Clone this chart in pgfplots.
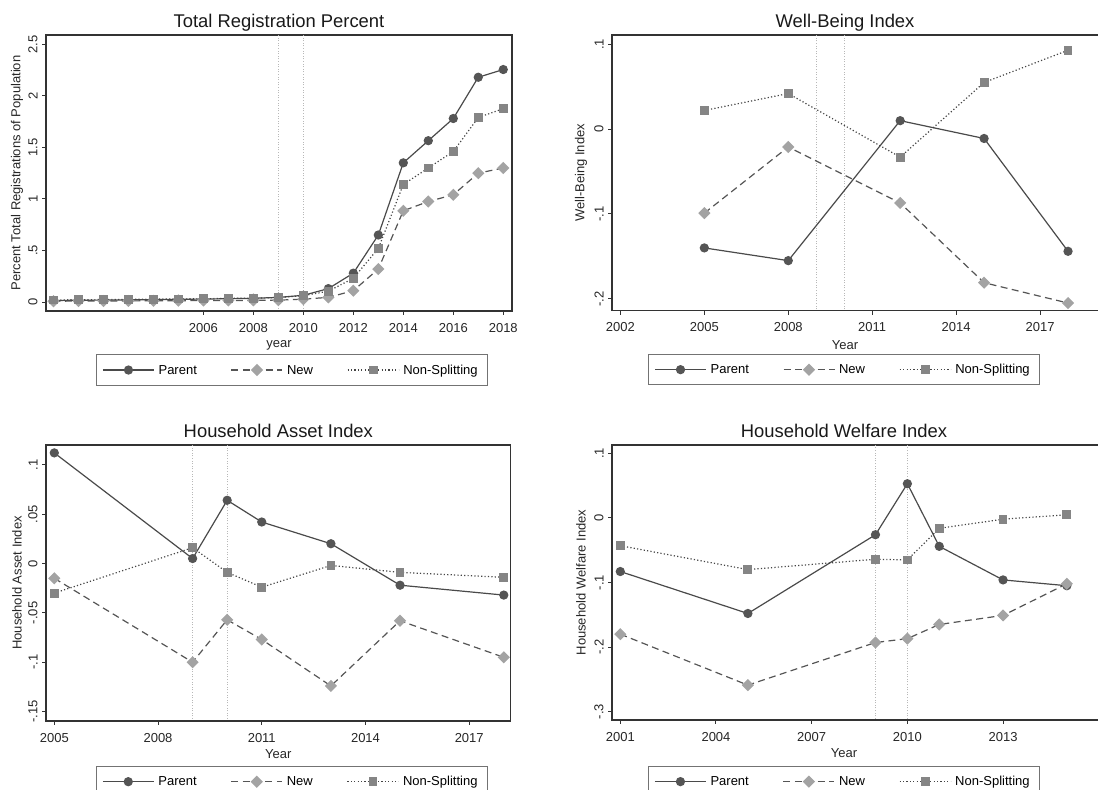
\documentclass[border=0pt]{standalone}
\usepackage{fontspec}
\setmainfont{Liberation Sans}
\usepackage{pgfplots}
\pgfplotsset{compat=1.18}
\definecolor{cpar}{HTML}{4A4A4A}
\definecolor{cparm}{HTML}{555555}
\definecolor{cnew}{HTML}{555555}
\definecolor{cnewm}{HTML}{A3A3A3}
\definecolor{cns}{HTML}{454545}
\definecolor{cnsm}{HTML}{858585}
\newcommand{\sm}{\fontsize{6.5}{7.5}\selectfont}
\newcommand{\tf}{\fontsize{9.2}{10.5}\selectfont}
\pgfplotsset{
  panel/.style={
    scale only axis,
    anchor=north west,
    axis line style={black!80, line width=0.6pt},
    tick align=outside,
    major tick length=2pt,
    tick style={black!80, line width=0.5pt},
    xtick pos=bottom, ytick pos=left,
    ticklabel style={font=\sm, text=black!85},
    yticklabel style={rotate=90, anchor=south, inner sep=1pt, yshift=1pt},
    xticklabel style={inner sep=1pt, yshift=-2.8pt},
    label style={font=\sm, text=black!85},
    title style={font=\tf, anchor=center, text=black!90},
    clip=true,
    legend columns=3,
    legend cell align=left,
    legend style={font=\sm, draw=black!55, line width=0.5pt, anchor=north,
      inner xsep=3pt, inner ysep=3pt,
      /tikz/every even column/.append style={column sep=15pt},
      nodes={inner sep=2pt, text depth=0.5pt}},
    legend image code/.code={\draw[mark repeat=2,mark phase=2,##1] plot coordinates {(0pt,0pt) (12.75pt,0pt) (25.5pt,0pt)};},
  },
  ppar/.style={cpar, line width=0.6pt, solid, mark=*, mark size=2pt, mark options={solid, fill=cparm, draw=cparm}},
  pnew/.style={cnew, line width=0.6pt, dash pattern=on 3.5pt off 2.2pt, mark=square*, mark size=1.85pt, mark options={solid, rotate=45, fill=cnewm, draw=cnewm}},
  pns/.style={cns, line width=0.6pt, dash pattern=on 0.6pt off 1.1pt, mark=square*, mark size=1.9pt, mark options={solid, fill=cnsm, draw=cnsm}},
  vl/.style={black!28, line width=0.4pt, dash pattern=on 0.5pt off 0.8pt, forget plot},
}
\begin{document}
\begin{tikzpicture}
% ---------- Panel 1 ----------
\begin{axis}[panel, at={(23pt,-17.5pt)}, width=233pt, height=138pt,
  xmin=1999.7, xmax=2018.35, ymin=-0.087, ymax=2.59,
  xtick={2006,2008,2010,2012,2014,2016,2018},
  xticklabels={2006,2008,2010,2012,2014,2016,2018},
  ytick={0,0.5,1,1.5,2,2.5}, yticklabels={0,.5,1,1.5,2,2.5},
  title={Total Registration Percent}, title style={at={(0.5,1)}, yshift=0pt},
  xlabel={year}, xlabel style={at={(0.5,0)}, anchor=center, yshift=-17pt},
  ylabel={Percent Total Registrations of Population}, ylabel style={at={(0,0.5)}, anchor=center, yshift=14.5pt},
  legend style={at={(0.528,-0.157)}},
]
\addplot[vl] coordinates {(2009,-1) (2009,3)};
\addplot[vl] coordinates {(2010,-1) (2010,3)};
\addplot[ppar] coordinates {(2000,0.015) (2001,0.017) (2002,0.019) (2003,0.021) (2004,0.023) (2005,0.026) (2006,0.029) (2007,0.032) (2008,0.036) (2009,0.045) (2010,0.065) (2011,0.13) (2012,0.28) (2013,0.65) (2014,1.35) (2015,1.565) (2016,1.78) (2017,2.18) (2018,2.255)};
\addlegendentry{Parent}
\addplot[pnew] coordinates {(2000,0.008) (2001,0.009) (2002,0.010) (2003,0.011) (2004,0.012) (2005,0.013) (2006,0.014) (2007,0.015) (2008,0.016) (2009,0.018) (2010,0.028) (2011,0.045) (2012,0.11) (2013,0.32) (2014,0.885) (2015,0.975) (2016,1.04) (2017,1.25) (2018,1.30)};
\addlegendentry{New}
\addplot[pns] coordinates {(2000,0.02) (2001,0.022) (2002,0.024) (2003,0.026) (2004,0.028) (2005,0.030) (2006,0.032) (2007,0.035) (2008,0.038) (2009,0.042) (2010,0.062) (2011,0.105) (2012,0.23) (2013,0.52) (2014,1.14) (2015,1.30) (2016,1.46) (2017,1.79) (2018,1.875)};
\addlegendentry{Non-Splitting}
\end{axis}
% ---------- Panel 2 ----------
\begin{axis}[panel, at={(306pt,-17.5pt)}, width=249pt, height=137.85pt,
  xmin=2001.7, xmax=2019.5, ymin=-0.214, ymax=0.111,
  xtick={2002,2005,2008,2011,2014,2017},
  xticklabels={2002,2005,2008,2011,2014,2017},
  ytick={-0.2,-0.1,0,0.1}, yticklabels={-.2,-.1,0,.1},
  title={Well-Being Index}, title style={at={(0.468,1)}, yshift=0pt},
  xlabel={Year}, xlabel style={at={(0.468,0)}, anchor=center, yshift=-17pt},
  ylabel={Well-Being Index}, ylabel style={at={(0,0.5)}, anchor=center, yshift=15.5pt},
  legend style={at={(0.466,-0.157)}},
]
\addplot[vl] coordinates {(2009,-1) (2009,1)};
\addplot[vl] coordinates {(2010,-1) (2010,1)};
\addplot[ppar] coordinates {(2005,-0.140) (2008,-0.155) (2012,0.010) (2015,-0.011) (2018,-0.144)};
\addlegendentry{Parent}
\addplot[pnew] coordinates {(2005,-0.099) (2008,-0.021) (2012,-0.087) (2015,-0.181) (2018,-0.205)};
\addlegendentry{New}
\addplot[pns] coordinates {(2005,0.022) (2008,0.042) (2012,-0.033) (2015,0.055) (2018,0.093)};
\addlegendentry{Non-Splitting}
\end{axis}
% ---------- Panel 3 ----------
\begin{axis}[panel, at={(23pt,-222.5pt)}, width=232.35pt, height=138pt,
  xmin=2004.76, xmax=2018.2, ymin=-0.1595, ymax=0.12,
  xtick={2005,2008,2011,2014,2017},
  xticklabels={2005,2008,2011,2014,2017},
  ytick={-0.15,-0.1,-0.05,0,0.05,0.1}, yticklabels={-.15,-.1,-.05,0,.05,.1},
  title={Household Asset Index}, title style={at={(0.5,1)}, yshift=1pt},
  xlabel={Year}, xlabel style={at={(0.5,0)}, anchor=center, yshift=-16.5pt},
  ylabel={Household Asset Index}, ylabel style={at={(0,0.5)}, anchor=center, yshift=14.5pt},
  legend style={at={(0.529,-0.163)}},
]
\addplot[vl] coordinates {(2009,-1) (2009,1)};
\addplot[vl] coordinates {(2010,-1) (2010,1)};
\addplot[ppar] coordinates {(2005,0.112) (2009,0.005) (2010,0.064) (2011,0.042) (2013,0.020) (2015,-0.022) (2018,-0.032)};
\addlegendentry{Parent}
\addplot[pnew] coordinates {(2005,-0.015) (2009,-0.100) (2010,-0.057) (2011,-0.077) (2013,-0.124) (2015,-0.058) (2018,-0.095)};
\addlegendentry{New}
\addplot[pns] coordinates {(2005,-0.030) (2009,0.016) (2010,-0.009) (2011,-0.024) (2013,-0.002) (2015,-0.009) (2018,-0.014)};
\addlegendentry{Non-Splitting}
\end{axis}
% ---------- Panel 4 ----------
\begin{axis}[panel, at={(306pt,-222.5pt)}, width=251.35pt, height=137.5pt,
  xmin=2000.74, xmax=2016.5, ymin=-0.313, ymax=0.113,
  xtick={2001,2004,2007,2010,2013},
  xticklabels={2001,2004,2007,2010,2013},
  ytick={-0.3,-0.2,-0.1,0,0.1}, yticklabels={-.3,-.2,-.1,0,.1},
  title={Household Welfare Index}, title style={at={(0.4615,1)}, yshift=1pt},
  xlabel={Year}, xlabel style={at={(0.4615,0)}, anchor=center, yshift=-16.5pt},
  ylabel={Household Welfare Index}, ylabel style={at={(0,0.5)}, anchor=center, yshift=15.5pt},
  legend style={at={(0.4615,-0.167)}},
]
\addplot[vl] coordinates {(2009,-1) (2009,1)};
\addplot[vl] coordinates {(2010,-1) (2010,1)};
\addplot[ppar] coordinates {(2001,-0.083) (2005,-0.148) (2009,-0.026) (2010,0.053) (2011,-0.044) (2013,-0.096) (2015,-0.105)};
\addlegendentry{Parent}
\addplot[pnew] coordinates {(2001,-0.180) (2005,-0.259) (2009,-0.193) (2010,-0.187) (2011,-0.165) (2013,-0.151) (2015,-0.102)};
\addlegendentry{New}
\addplot[pns] coordinates {(2001,-0.043) (2005,-0.080) (2009,-0.064) (2010,-0.065) (2011,-0.016) (2013,-0.002) (2015,0.005)};
\addlegendentry{Non-Splitting}
\end{axis}
\pgfresetboundingbox
\useasboundingbox (0pt,0pt) rectangle (549pt,-395pt);
\end{tikzpicture}
\end{document}
